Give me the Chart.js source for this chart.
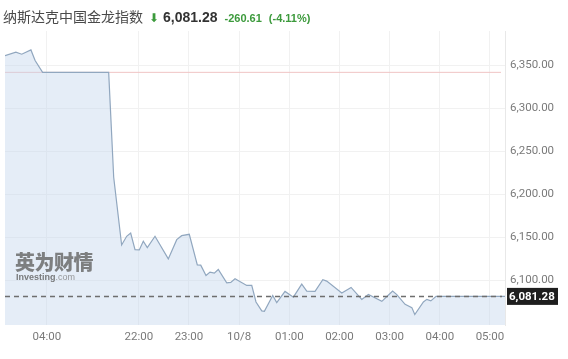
<!DOCTYPE html>
<html>
<head>
<meta charset="utf-8">
<script src="https://cdn.jsdelivr.net/npm/chart.js@4.4.1/dist/chart.umd.min.js"></script>
<style>
  html, body { margin: 0; padding: 0; background: #fff; }
  #wrap { position: relative; width: 568px; height: 359px; overflow: hidden; }
  #myChart { position: absolute; left: 0; top: 0; }
  .head { position: absolute; left: 3px; top: 6px; white-space: nowrap; font-family: "Liberation Sans", Arial, sans-serif; }
  .name { font-family: "Noto Sans CJK SC", sans-serif; font-size: 14px; color: #4a4a4a; }
  .arrow { color: #3c9a3c; font-size: 12px; margin-left: 6px; }
  .last { font-weight: bold; font-size: 14px; color: #333; margin-left: 4px; }
  .chg { font-weight: bold; font-size: 11px; color: #3c9a3c; margin-left: 7px; }
  .logo { position: absolute; left: 15px; top: 250px; color: #6b6b6b; opacity: 0.85; }
  .logo .cn { font-family: "Noto Sans CJK SC", sans-serif; font-weight: 900; font-size: 20px; letter-spacing: -0.5px; line-height: 23px; }
  .logo .en { font-family: "Liberation Sans", Arial, sans-serif; font-size: 9px; line-height: 9px; font-weight: bold; color: #666; margin-left: 1px; }
  .logo .en span { font-weight: normal; color: #888; }
</style>
</head>
<body>
<div id="wrap">
  <canvas id="myChart" width="568" height="359"></canvas>
  <div class="head">
    <span class="name">纳斯达克中国金龙指数</span><span class="arrow">&#x2B07;</span><span class="last">6,081.28</span><span class="chg">-260.61</span><span class="chg">(-4.11%)</span>
  </div>
  <div class="logo">
    <div class="cn">英为财情</div>
    <div class="en">Investing<span>.com</span></div>
  </div>
</div>
<script>
//. Data (minutes on the compressed session axis, 22:00 = 0)
const times = [-160, -147, -140, -129, -124, -115, -36, -30, -20.5, -14.5, -9.7, -4.5, 0.6, 5.4, 10.2, 19.4,
  35.3, 45.4, 51.3, 60.4, 70, 74.1, 80.4, 85.2, 90.3, 95.1, 105.2, 110, 115.1, 129.1, 135.1, 140.2,
  147.1, 150.2, 160.2, 165, 174.9, 184.9, 194.9, 200.9, 210.8, 220.1, 224.8, 242.8, 253.9, 266.7,
  274.6, 290.7, 297.4, 303.6, 308.6, 318.5, 326.6, 330.1, 340.4, 344.5, 349.3, 355.6, 438];
const prices = [6361.4, 6365.3, 6363.0, 6368.0, 6355.6, 6341.89, 6341.89, 6219.8, 6141.1, 6151.2, 6155.0, 6135.7,
  6135.3, 6145.4, 6138.0, 6151.2, 6124.9, 6147.3, 6151.9, 6153.5, 6118.0, 6117.6, 6105.6, 6109.5, 6108.4,
  6112.6, 6097.1, 6097.5, 6101.8, 6094.0, 6094.0, 6074.8, 6064.4, 6063.9, 6082.4, 6074.0, 6087.1, 6080.4,
  6095.6, 6087.5, 6087.1, 6100.6, 6099.1, 6085.2, 6091.7, 6077.8, 6083.6, 6075.5, 6081.7, 6087.5, 6083.3,
  6072.0, 6068.2, 6060.1, 6074.8, 6077.8, 6076.0, 6081.28, 6081.28];
const xTickMinutes = [-110, 0, 60, 120, 180, 240, 300, 360, 420];
const xTickLabels = ["04:00", "22:00", "23:00", "10/8", "01:00", "02:00", "03:00", "04:00", "05:00"];
const yTickValues = [6100, 6150, 6200, 6250, 6300, 6350];
const prevClose = 6341.89;
const lastPrice = 6081.28;

const ctx = document.getElementById("myChart");

//. Reference lines and last price tag
const refLines = {
  id: "refLines",
  beforeDatasetsDraw(chart) {
    // previous close, shows through the light fill
    const { ctx, chartArea, scales } = chart;
    const y = scales.y.getPixelForValue(prevClose);
    ctx.save();
    ctx.strokeStyle = "#f0c4c4";
    ctx.lineWidth = 1;
    ctx.beginPath();
    ctx.moveTo(chartArea.left, y);
    ctx.lineTo(chartArea.right - 4, y);
    ctx.stroke();
    ctx.restore();
  },
  afterDatasetsDraw(chart) {
    const { ctx, chartArea, scales } = chart;
    const y = Math.round(scales.y.getPixelForValue(lastPrice)) + 0.5;
    ctx.save();
    ctx.strokeStyle = "#6e6e6e";
    ctx.lineWidth = 1.3;
    ctx.setLineDash([5, 4]);
    ctx.beginPath();
    ctx.moveTo(chartArea.left, y);
    ctx.lineTo(chartArea.right - 3, y);
    ctx.stroke();
    ctx.restore();
  },
  afterDraw(chart) {
    const { ctx, chartArea, scales } = chart;
    const y = scales.y.getPixelForValue(lastPrice);
    ctx.save();
    ctx.fillStyle = "#1e1e1e";
    ctx.fillRect(chartArea.right + 2, y - 8.5, 51, 17);
    ctx.fillStyle = "#fff";
    ctx.font = "bold 11.5px Roboto, sans-serif";
    ctx.textAlign = "left";
    ctx.textBaseline = "middle";
    ctx.fillText("6,081.28", chartArea.right + 4, y + 0.5);
    ctx.restore();
  },
};

let myChart = new Chart(ctx, {
  type: "line",
  data: {
    datasets: [
      {
        data: times.map((t, i) => ({ x: t, y: prices[i] })),
        borderColor: "#91a7bf",
        borderWidth: 1.2,
        backgroundColor: "rgba(194, 213, 235, 0.42)",
        fill: "start",
        pointRadius: 0,
        tension: 0,
      },
    ],
  },
  options: {
    responsive: false,
    animation: false,
    layout: { padding: { left: 5, top: 31, right: 0, bottom: 0 } },
    plugins: { legend: { display: false }, tooltip: { enabled: false } },
    scales: {
      x: {
        type: "linear",
        min: -160,
        max: 438,
        afterBuildTicks: (scale) => {
          scale.ticks = xTickMinutes.map((v) => ({ value: v }));
        },
        afterFit: (scale) => {
          scale.height = 34;
        },
        ticks: {
          autoSkip: false,
          maxRotation: 0,
          padding: 5,
          color: "#7a7a7a",
          font: { family: "Roboto", size: 11.5 },
          callback: (v) => xTickLabels[xTickMinutes.indexOf(v)],
        },
        grid: { color: "#f1f1f1", drawTicks: false },
        border: { display: false },
      },
      y: {
        position: "right",
        min: 6048,
        max: 6390,
        afterBuildTicks: (scale) => {
          scale.ticks = yTickValues.map((v) => ({ value: v }));
        },
        afterFit: (scale) => {
          scale.width = 63;
        },
        ticks: {
          padding: 5,
          color: "#7a7a7a",
          font: { family: "Roboto", size: 11.5 },
          callback: (v) => v.toLocaleString("en-US", { minimumFractionDigits: 2 }),
        },
        grid: { color: "#f1f1f1", drawTicks: false },
        border: { display: true, color: "#e8e8e8" },
      },
    },
  },
  plugins: [refLines],
});
</script>
</body>
</html>
